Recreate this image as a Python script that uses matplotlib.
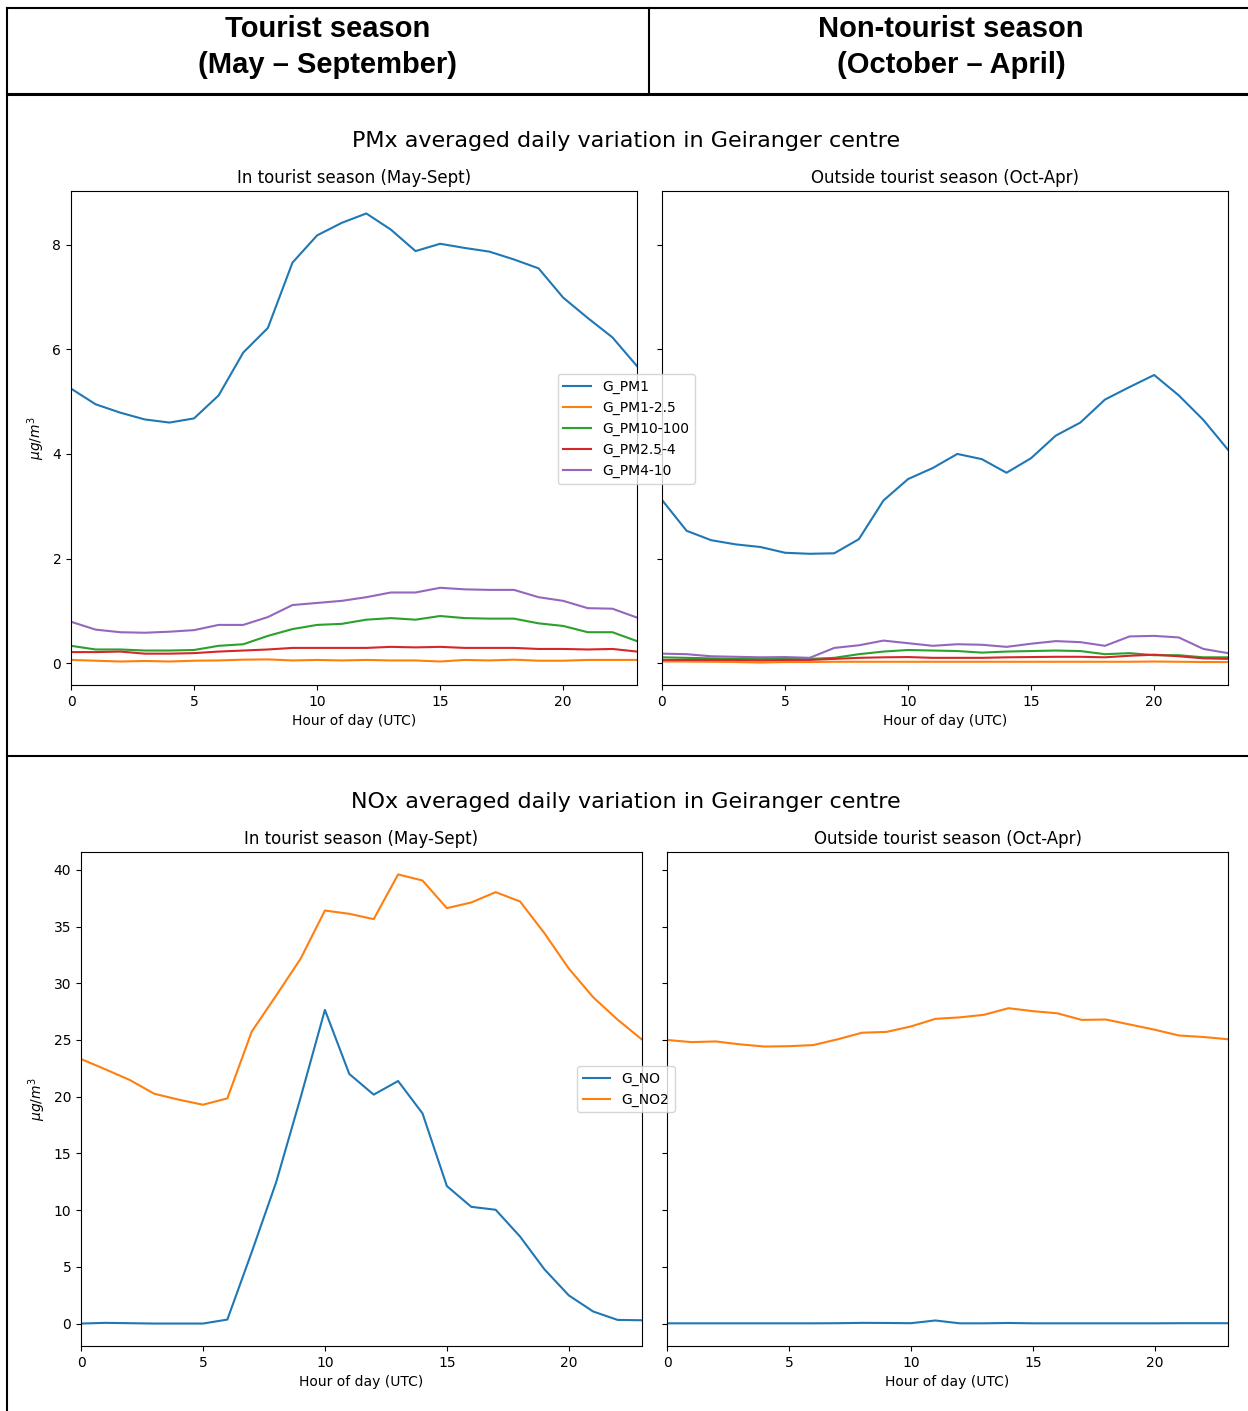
import matplotlib
matplotlib.use("Agg")
import matplotlib.pyplot as plt
from matplotlib.lines import Line2D

W, H = 1248, 1411

hours = list(range(24))

pm_names = ['G_PM1', 'G_PM1-2.5', 'G_PM10-100', 'G_PM2.5-4', 'G_PM4-10']
nox_names = ['G_NO', 'G_NO2']

# PM, tourist season (May-Sept)
pm1_in = [5.25, 4.95, 4.79, 4.66, 4.60, 4.68, 5.12, 5.94, 6.41, 7.66, 8.18, 8.42,
          8.60, 8.29, 7.88, 8.02, 7.94, 7.87, 7.72, 7.55, 6.99, 6.60, 6.23, 5.68]
pm1_25_in = [0.06, 0.045, 0.03, 0.04, 0.03, 0.045, 0.05, 0.065, 0.07, 0.05, 0.06, 0.05,
             0.06, 0.05, 0.05, 0.03, 0.06, 0.05, 0.065, 0.045, 0.045, 0.06, 0.06, 0.06]
pm10_100_in = [0.33, 0.26, 0.26, 0.24, 0.24, 0.25, 0.33, 0.36, 0.52, 0.65, 0.73, 0.75,
               0.83, 0.86, 0.83, 0.90, 0.86, 0.85, 0.85, 0.76, 0.71, 0.59, 0.59, 0.42]
pm25_4_in = [0.21, 0.21, 0.22, 0.18, 0.18, 0.19, 0.22, 0.24, 0.26, 0.29, 0.29, 0.29,
             0.29, 0.31, 0.30, 0.31, 0.29, 0.29, 0.29, 0.27, 0.27, 0.26, 0.27, 0.22]
pm4_10_in = [0.79, 0.64, 0.59, 0.58, 0.60, 0.63, 0.73, 0.73, 0.88, 1.11, 1.15, 1.19,
             1.26, 1.35, 1.35, 1.44, 1.41, 1.40, 1.40, 1.26, 1.19, 1.05, 1.04, 0.87]

# PM, outside tourist season (Oct-Apr)
pm1_out = [3.12, 2.53, 2.35, 2.27, 2.22, 2.11, 2.09, 2.10, 2.37, 3.11, 3.52, 3.73,
           4.00, 3.90, 3.64, 3.92, 4.35, 4.60, 5.04, 5.28, 5.51, 5.12, 4.65, 4.08]
pm1_25_out = [0.03, 0.03, 0.025, 0.02, 0.01, 0.02, 0.02, 0.025, 0.025, 0.025, 0.025, 0.025,
              0.025, 0.025, 0.025, 0.025, 0.025, 0.025, 0.025, 0.025, 0.03, 0.025, 0.02, 0.02]
pm10_100_out = [0.11, 0.10, 0.09, 0.08, 0.08, 0.08, 0.08, 0.10, 0.17, 0.22, 0.25, 0.24,
                0.23, 0.20, 0.22, 0.23, 0.24, 0.23, 0.17, 0.19, 0.15, 0.15, 0.11, 0.11]
pm25_4_out = [0.06, 0.06, 0.06, 0.06, 0.05, 0.06, 0.06, 0.08, 0.10, 0.11, 0.115, 0.10,
              0.10, 0.10, 0.11, 0.115, 0.12, 0.12, 0.11, 0.14, 0.16, 0.13, 0.09, 0.08]
pm4_10_out = [0.18, 0.17, 0.13, 0.12, 0.11, 0.115, 0.10, 0.29, 0.34, 0.43, 0.38, 0.33,
              0.36, 0.35, 0.31, 0.37, 0.42, 0.40, 0.33, 0.51, 0.52, 0.49, 0.27, 0.19]

# NOx, tourist season
no_in = [0.0, 0.06, 0.03, 0.0, 0.0, 0.0, 0.35, 6.3, 12.45, 19.9, 27.65, 22.0,
         20.18, 21.38, 18.53, 12.12, 10.29, 10.03, 7.67, 4.78, 2.48, 1.06, 0.32, 0.29]
no2_in = [23.32, 22.41, 21.47, 20.26, 19.74, 19.29, 19.85, 25.74, 28.91, 32.15, 36.41, 36.12,
          35.65, 39.59, 39.06, 36.62, 37.12, 38.03, 37.21, 34.41, 31.29, 28.76, 26.79, 25.03]

# NOx, outside tourist season
no_out = [0.02, 0.02, 0.02, 0.02, 0.02, 0.02, 0.02, 0.03, 0.06, 0.05, 0.03, 0.27,
          0.02, 0.02, 0.05, 0.02, 0.02, 0.02, 0.02, 0.02, 0.02, 0.03, 0.03, 0.03]
no2_out = [25.0, 24.81, 24.87, 24.61, 24.42, 24.45, 24.55, 25.06, 25.64, 25.71, 26.19, 26.86,
           26.99, 27.22, 27.80, 27.54, 27.35, 26.77, 26.80, 26.35, 25.90, 25.39, 25.26, 25.06]

pm_in = [pm1_in, pm1_25_in, pm10_100_in, pm25_4_in, pm4_10_in]
pm_out = [pm1_out, pm1_25_out, pm10_100_out, pm25_4_out, pm4_10_out]
nox_in = [no_in, no2_in]
nox_out = [no_out, no2_out]


def px_axes(fig, left, top, right, bottom, **kwargs):
    # axes placed by pixel box (origin at top-left)
    return fig.add_axes([left / W, 1 - bottom / H, (right - left) / W, (bottom - top) / H], **kwargs)


def hline(fig, y, x0, x1, lw):
    fig.add_artist(Line2D([x0 / W, x1 / W], [1 - y / H, 1 - y / H], color='black', lw=lw))


def vline(fig, x, y0, y1, lw):
    fig.add_artist(Line2D([x / W, x / W], [1 - y0 / H, 1 - y1 / H], color='black', lw=lw))


def season_pair(fig, boxes, series_in, series_out, names, title, title_y, legend_y):
    ax1 = px_axes(fig, *boxes[0])
    ax2 = px_axes(fig, *boxes[1], sharey=ax1)
    for s, name in zip(series_in, names):
        ax1.plot(hours, s, label=name)
    for s in series_out:
        ax2.plot(hours, s)
    ax1.set_title('In tourist season (May-Sept)', fontsize=12)
    ax2.set_title('Outside tourist season (Oct-Apr)', fontsize=12)
    for ax in (ax1, ax2):
        ax.set_xlim(0, 23)
        ax.set_xticks([0, 5, 10, 15, 20])
        ax.set_xlabel('Hour of day (UTC)', fontsize=10)
        ax.tick_params(labelsize=10)
    ax2.tick_params(labelleft=False)
    ax1.set_ylabel(r'$\mu g/m^3$', fontsize=10)
    fig.text(626 / W, 1 - title_y / H, title, ha='center', va='center', fontsize=16)
    handles, labels = ax1.get_legend_handles_labels()
    fig.legend(handles, labels, loc='center', fontsize=10,
               bbox_to_anchor=(626 / W, 1 - legend_y / H))
    return ax1, ax2


fig = plt.figure(figsize=(W / 100, H / 100), dpi=100)

# table frame
hline(fig, 8, 7, W, 1.5)
hline(fig, 94, 7, W, 2.2)
hline(fig, 756, 7, W, 1.5)
vline(fig, 7, 8, H, 1.5)
vline(fig, 649, 8, 94, 1.5)

head = dict(ha='center', va='center', fontsize=21, fontweight='bold',
            family='Liberation Sans', linespacing=1.35)
fig.text(328 / W, 1 - 47 / H, 'Tourist season\n(May \u2013 September)', **head)
fig.text(951 / W, 1 - 47 / H, 'Non-tourist season\n(October \u2013 April)', **head)

season_pair(fig, [(71, 191, 637, 685), (662, 191, 1228, 685)],
            pm_in, pm_out, pm_names,
            'PMx averaged daily variation in Geiranger centre', 141, 429)
season_pair(fig, [(81, 852, 642, 1346), (667, 852, 1228, 1346)],
            nox_in, nox_out, nox_names,
            'NOx averaged daily variation in Geiranger centre', 802, 1089)

plt.savefig('out.png', dpi=100)
plt.close()
